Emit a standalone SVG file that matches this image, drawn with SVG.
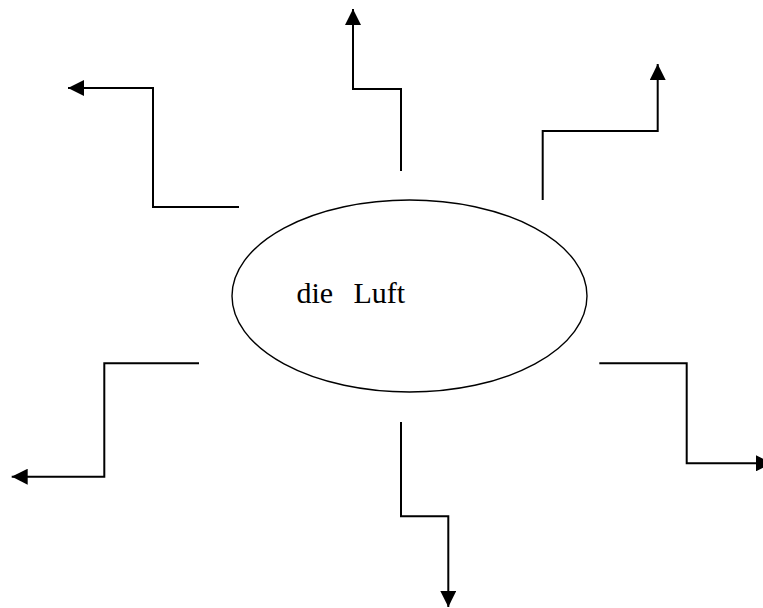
<svg xmlns="http://www.w3.org/2000/svg" width="763" height="608" viewBox="0 0 763 608">
  <style>
    .conn { fill: none; stroke: #000; stroke-width: 2; stroke-linejoin: miter; stroke-linecap: butt; }
    .node { fill: #fff; stroke: #000; stroke-width: 1.4; }
    .label { font-family: "Liberation Serif", "Times New Roman", serif; font-size: 30px; fill: #000; }
  </style>
  <defs>
    <marker id="arrow" viewBox="0 0 16 16" refX="16" refY="8" markerWidth="16" markerHeight="16" markerUnits="userSpaceOnUse" orient="auto">
      <path d="M0,0 L16,8 L0,16 Z" fill="#000"/>
    </marker>
  </defs>
  <rect width="763" height="608" fill="#fff"/>
  <g id="node-luft">
    <ellipse class="node" cx="409.5" cy="296" rx="177.5" ry="96"/>
    <text class="label" y="302.5"><tspan x="296.5">die</tspan><tspan x="353.5">Luft</tspan></text>
  </g>
  <g id="connectors">
    <polyline class="conn" marker-end="url(#arrow)" points="239,207 153,207 153,88 68,88"/>
    <polyline class="conn" marker-end="url(#arrow)" points="401,171 401,89 353,89 353,9"/>
    <polyline class="conn" marker-end="url(#arrow)" points="542.7,200 542.7,131 657.7,131 657.7,64"/>
    <polyline class="conn" marker-end="url(#arrow)" points="199,363.3 104.3,363.3 104.3,476.7 11.7,476.7"/>
    <polyline class="conn" marker-end="url(#arrow)" points="401,422 401,516.3 448.3,516.3 448.3,607"/>
    <polyline class="conn" marker-end="url(#arrow)" points="599.3,363.3 686.7,363.3 686.7,463.3 772,463.3"/>
  </g>
</svg>
